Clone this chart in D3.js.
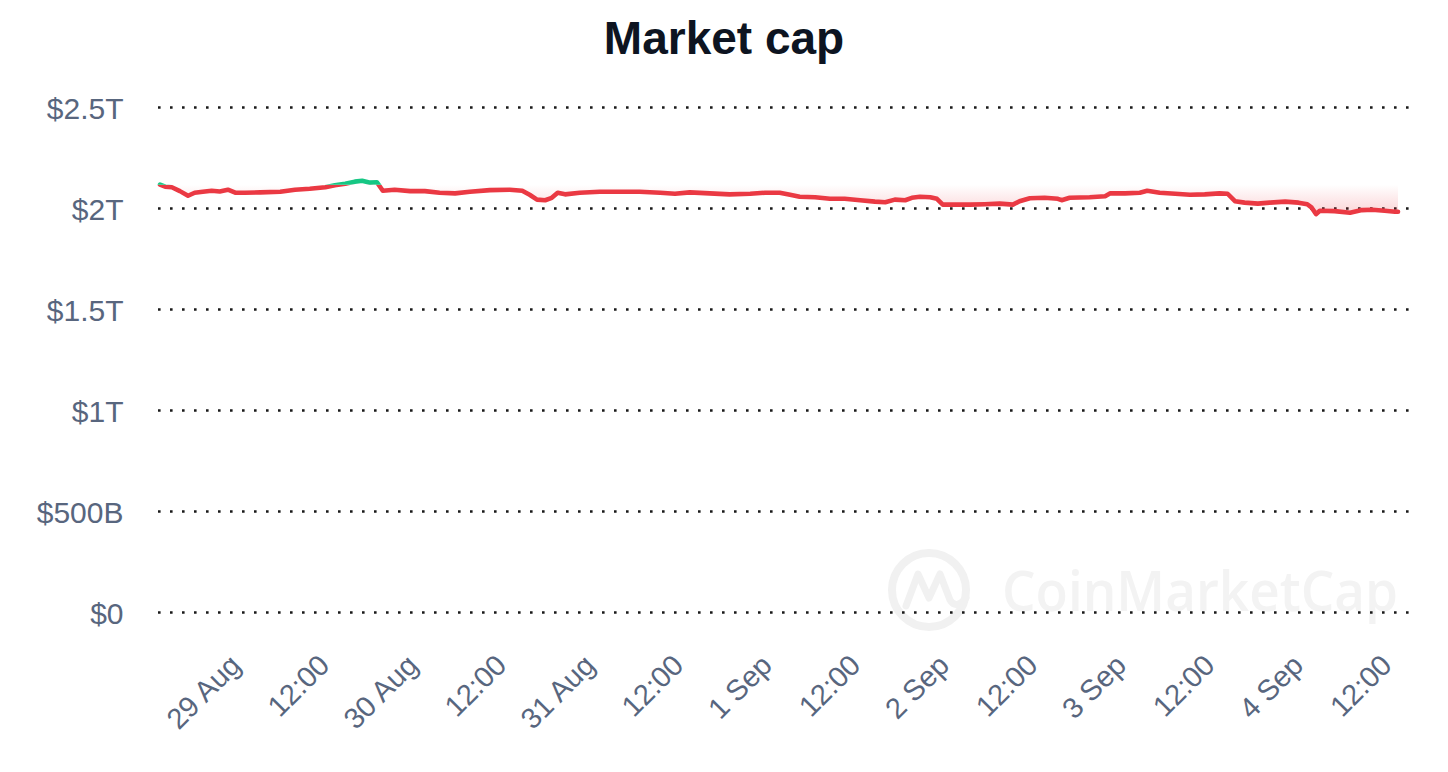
<!DOCTYPE html>
<html>
<head>
<meta charset="utf-8">
<script src="https://cdn.jsdelivr.net/npm/d3@7/dist/d3.min.js"></script>
<style>
  html, body { margin: 0; padding: 0; background: #ffffff; }
  svg { display: block; font-family: "Liberation Sans", Arial, Helvetica, sans-serif; }
</style>
</head>
<body>
<svg id="chart" width="1448" height="772"></svg>
<script>
// ---- data ----
const chartTitle = "Market cap";
const seriesStart = Date.UTC(2021, 7, 28, 13, 50); // 28 Aug 13:50 UTC
const spanHours = 168;
// hours since series start
const hoursOffset = [
  0, 0.7, 1.6, 2.7, 3.8, 4.7, 5.8, 7.0, 8.1, 9.2, 10.2, 11.5, 13.6, 16.3, 18.3, 20.3, 22.4, 23.7,
  25.1, 26.4, 27.4, 28.5, 29.4, 30.2, 31.8, 33.9, 35.9, 37.9, 40.0, 42.0, 44.7, 47.4, 49.1, 50.1,
  51.1, 52.2, 53.1, 53.9, 54.9, 56.9, 59.6, 62.3, 65.0, 67.8, 69.8, 71.8, 74.5, 77.2, 80.0, 82.0,
  84.0, 85.4, 86.7, 88.8, 90.8, 92.8, 94.9, 96.9, 98.3, 99.6, 101.0, 101.9, 103.0, 104.4, 105.3,
  106.1, 107.7, 109.8, 111.8, 113.8, 115.6, 116.5, 117.9, 119.9, 121.7, 122.2, 123.3, 126.0, 128.1,
  128.8, 130.8, 132.8, 133.8, 135.5, 137.6, 139.6, 141.6, 143.6, 144.7, 145.7, 147.0, 148.8, 150.4,
  152.5, 154.3, 155.5, 156.1, 156.7, 157.2, 159.2, 161.3, 162.9, 164.3, 166.0, 167.4, 167.8
];
// market cap, trillions of USD
const marketCapT = [
  2.118, 2.108, 2.105, 2.086, 2.063, 2.078, 2.083, 2.088, 2.084, 2.093, 2.078, 2.078, 2.080, 2.083, 2.093, 2.098, 2.105, 2.115,
  2.123, 2.133, 2.137, 2.128, 2.130, 2.088, 2.093, 2.086, 2.086, 2.078, 2.075, 2.083, 2.091, 2.093, 2.088, 2.068,
  2.044, 2.041, 2.053, 2.078, 2.070, 2.078, 2.083, 2.083, 2.083, 2.078, 2.073, 2.080, 2.075, 2.070, 2.073, 2.078,
  2.078, 2.068, 2.058, 2.056, 2.048, 2.048, 2.041, 2.034, 2.031, 2.044, 2.041, 2.053, 2.058, 2.056, 2.048,
  2.019, 2.019, 2.019, 2.021, 2.024, 2.019, 2.036, 2.051, 2.053, 2.048, 2.041, 2.053, 2.056, 2.061,
  2.075, 2.075, 2.078, 2.088, 2.078, 2.073, 2.068, 2.070, 2.075, 2.073, 2.036, 2.029, 2.024, 2.029,
  2.034, 2.029, 2.021, 2.004, 1.972, 1.989, 1.987, 1.979, 1.992, 1.994, 1.989, 1.984, 1.984
];
const yTickValues = [0, 0.5, 1, 1.5, 2, 2.5];
const yTickLabels = ["$0", "$500B", "$1T", "$1.5T", "$2T", "$2.5T"];
const xTickFirst = Date.UTC(2021, 7, 29, 0, 0);
const xTickLast = Date.UTC(2021, 8, 4, 12, 0);

// ---- chart ----
const svg = d3.select("#chart");
const W = 1448, H = 772;
const data = hoursOffset.map((h, i) => ({ t: new Date(seriesStart + h * 3600e3), v: marketCapT[i] }));

const x = d3.scaleUtc()
  .domain([new Date(seriesStart), new Date(seriesStart + spanHours * 3600e3)])
  .range([160, 1399.5]);
const y = d3.scaleLinear().domain([0, 2.5]).range([612.5, 107.5]);

const red = "#ea3943", green = "#16c784", axisColor = "#58667e";

// watermark
const wm = svg.append("g").attr("class", "watermark");
wm.append("circle").attr("cx", 929).attr("cy", 590).attr("r", 37)
  .attr("fill", "none").attr("stroke", "#f1f1f1").attr("stroke-width", 8);
wm.append("path")
  .attr("d", "M906,606 L918,574 L929,598 L940,574 L950,600 Q956,610 966,598")
  .attr("fill", "none").attr("stroke", "#f1f1f1").attr("stroke-width", 7)
  .attr("stroke-linejoin", "round").attr("stroke-linecap", "round");
wm.append("text").attr("x", 1002).attr("y", 611)
  .attr("font-size", 56).attr("font-weight", 600).attr("fill", "#f3f3f3")
  .attr("font-family", "'Open Sans', 'Liberation Sans', sans-serif")
  .attr("textLength", 396).attr("lengthAdjust", "spacingAndGlyphs")
  .text("CoinMarketCap");

// title
svg.append("text").attr("x", W / 2).attr("y", 54).attr("text-anchor", "middle")
  .attr("font-size", 46).attr("font-weight", 700).attr("fill", "#0d1421")
  .text(chartTitle);

// gridlines + y labels
const yAxis = d3.axisLeft(y).tickValues(yTickValues)
  .tickFormat((d, i) => yTickLabels[i]).tickSize(0).tickPadding(0);
const gy = svg.append("g").attr("transform", "translate(123.5,0)").call(yAxis);
gy.select(".domain").remove();
gy.selectAll("text").attr("font-size", 30).attr("fill", axisColor)
  .attr("font-family", "'Liberation Sans', Arial, sans-serif").attr("dy", "0.35em");

svg.append("g").selectAll("line").data(yTickValues).join("line")
  .attr("x1", 158).attr("x2", 1409)
  .attr("y1", d => y(d)).attr("y2", d => y(d))
  .attr("stroke", "#1a1a1a").attr("stroke-width", 2.6)
  .attr("stroke-dasharray", "2.6 9.4");

// x labels
const xTicks = d3.utcHour.every(12).range(new Date(xTickFirst), new Date(xTickLast + 1));
const fmtDay = d3.utcFormat("%-d %b"), fmtHour = d3.utcFormat("%H:%M");
const xAxis = d3.axisBottom(x).tickValues(xTicks)
  .tickFormat(d => d.getUTCHours() === 0 ? fmtDay(d) : fmtHour(d))
  .tickSize(0).tickPadding(0);
const gx = svg.append("g").attr("transform", "translate(0,667)").call(xAxis);
gx.select(".domain").remove();
gx.selectAll("text")
  .attr("font-size", 29).attr("fill", axisColor)
  .attr("font-family", "'Liberation Sans', Arial, sans-serif")
  .attr("text-anchor", "end").attr("y", 0).attr("dy", 0)
  .attr("transform", "translate(7,0) rotate(-45)");

// baseline = first value
const baseV = marketCapT[0];
const baseY = y(baseV);

const defs = svg.append("defs");
defs.append("clipPath").attr("id", "clipAbove").append("rect")
  .attr("x", 0).attr("y", 0).attr("width", W).attr("height", baseY);
defs.append("clipPath").attr("id", "clipBelow").append("rect")
  .attr("x", 0).attr("y", baseY).attr("width", W).attr("height", H - baseY);

const gRed = defs.append("linearGradient").attr("id", "gradRed")
  .attr("gradientUnits", "userSpaceOnUse").attr("x1", 0).attr("x2", 0)
  .attr("y1", baseY).attr("y2", y(1.97));
gRed.append("stop").attr("offset", 0).attr("stop-color", red).attr("stop-opacity", 0);
gRed.append("stop").attr("offset", 1).attr("stop-color", red).attr("stop-opacity", 0.22);
const gGreen = defs.append("linearGradient").attr("id", "gradGreen")
  .attr("gradientUnits", "userSpaceOnUse").attr("x1", 0).attr("x2", 0)
  .attr("y1", baseY).attr("y2", y(2.16));
gGreen.append("stop").attr("offset", 0).attr("stop-color", green).attr("stop-opacity", 0);
gGreen.append("stop").attr("offset", 1).attr("stop-color", green).attr("stop-opacity", 0.22);

const area = d3.area().x(d => x(d.t)).y0(baseY).y1(d => y(d.v));
const line = d3.line().x(d => x(d.t)).y(d => y(d.v));

svg.append("path").datum(data).attr("d", area).attr("fill", "url(#gradRed)").attr("clip-path", "url(#clipBelow)");
svg.append("path").datum(data).attr("d", area).attr("fill", "url(#gradGreen)").attr("clip-path", "url(#clipAbove)");
svg.append("path").datum(data).attr("d", line).attr("fill", "none").attr("stroke", red)
  .attr("stroke-width", 4.6).attr("stroke-linejoin", "round").attr("stroke-linecap", "round")
  .attr("clip-path", "url(#clipBelow)");
svg.append("path").datum(data).attr("d", line).attr("fill", "none").attr("stroke", green)
  .attr("stroke-width", 4.6).attr("stroke-linejoin", "round").attr("stroke-linecap", "round")
  .attr("clip-path", "url(#clipAbove)");
</script>
</body>
</html>
